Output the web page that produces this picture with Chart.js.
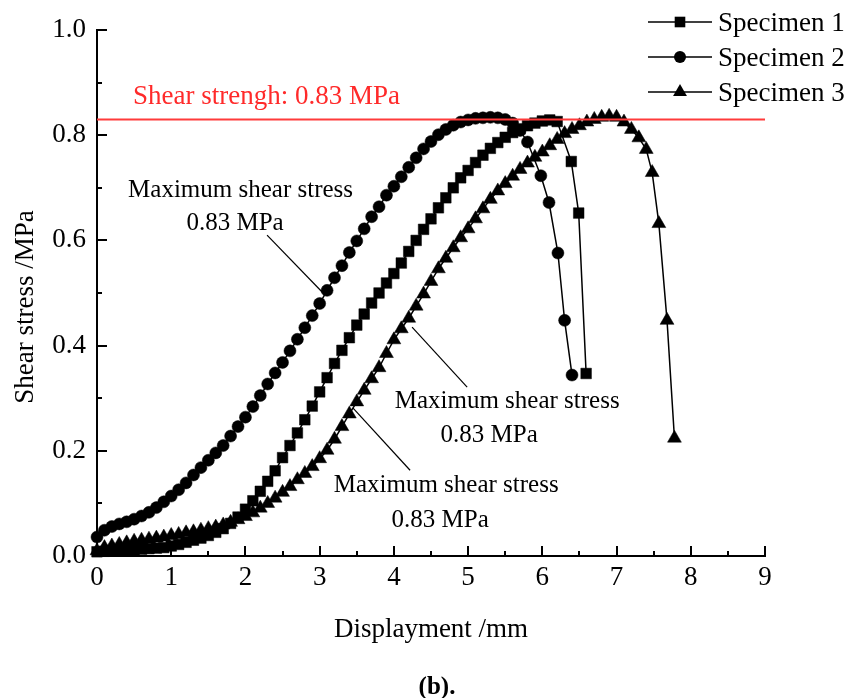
<!DOCTYPE html>
<html>
<head>
<meta charset="utf-8">
<script src="https://cdn.jsdelivr.net/npm/chart.js@4.4.1/dist/chart.umd.min.js"></script>
<style>
  html, body { margin: 0; padding: 0; background: #fff; }
  #wrap { width: 848px; height: 698px; }
</style>
</head>
<body>
<div id="wrap"><canvas id="shearChart" width="848" height="698"></canvas></div>
<script>
"use strict";

// displacement (mm) and shear stress (MPa)
const s1X = [0,0.1,0.2,0.3,0.4,0.5,0.6,0.7,0.8,0.9,1.0,1.1,1.2,1.3,1.4,1.5,1.6,1.7,1.8,1.9,
  2.0,2.1,2.2,2.3,2.4,2.5,2.6,2.7,2.8,2.9,3.0,3.1,3.2,3.3,3.4,3.5,3.6,3.7,3.8,3.9,
  4.0,4.1,4.2,4.3,4.4,4.5,4.6,4.7,4.8,4.9,5.0,5.1,5.2,5.3,5.4,5.5,5.6,5.7,5.8,5.9,
  6.0,6.1,6.2,6.39,6.49,6.59];
const s1Y = [0.008,0.009,0.010,0.011,0.011,0.012,0.013,0.014,0.015,0.016,0.019,0.022,0.026,0.030,0.034,0.039,0.045,0.052,0.062,0.074,
  0.089,0.105,0.123,0.142,0.162,0.187,0.210,0.234,0.259,0.285,0.312,0.339,0.366,0.391,0.415,0.439,0.460,0.481,0.500,0.519,
  0.537,0.557,0.579,0.600,0.621,0.641,0.662,0.681,0.700,0.719,0.733,0.748,0.762,0.775,0.786,0.796,0.805,0.812,0.818,0.823,
  0.827,0.829,0.826,0.750,0.652,0.347];

const s2X = [0,0.1,0.2,0.3,0.4,0.5,0.6,0.7,0.8,0.9,1.0,1.1,1.2,1.3,1.4,1.5,1.6,1.7,1.8,1.9,
  2.0,2.1,2.2,2.3,2.4,2.5,2.6,2.7,2.8,2.9,3.0,3.1,3.2,3.3,3.4,3.5,3.6,3.7,3.8,3.9,
  4.0,4.1,4.2,4.3,4.4,4.5,4.6,4.7,4.8,4.9,5.0,5.1,5.2,5.3,5.4,5.5,5.6,5.7,5.8,
  5.98,6.09,6.21,6.3,6.4];
const s2Y = [0.036,0.049,0.056,0.061,0.065,0.070,0.076,0.083,0.092,0.103,0.114,0.126,0.139,0.154,0.168,0.182,0.196,0.210,0.228,0.246,
  0.264,0.284,0.305,0.327,0.348,0.368,0.390,0.412,0.434,0.457,0.480,0.505,0.529,0.552,0.577,0.599,0.622,0.645,0.664,0.686,
  0.703,0.721,0.739,0.757,0.774,0.788,0.801,0.811,0.819,0.825,0.829,0.832,0.833,0.834,0.833,0.830,0.823,0.809,0.787,
  0.723,0.672,0.576,0.448,0.344];

const s3X = [0,0.1,0.2,0.3,0.4,0.5,0.6,0.7,0.8,0.9,1.0,1.1,1.2,1.3,1.4,1.5,1.6,1.7,1.8,1.9,
  2.0,2.1,2.2,2.3,2.4,2.5,2.6,2.7,2.8,2.9,3.0,3.1,3.2,3.3,3.4,3.5,3.6,3.7,3.8,3.9,
  4.0,4.1,4.2,4.3,4.4,4.5,4.6,4.7,4.8,4.9,5.0,5.1,5.2,5.3,5.4,5.5,5.6,5.7,5.8,5.9,
  6.0,6.1,6.2,6.3,6.4,6.5,6.6,6.7,6.8,6.9,7.0,7.1,7.2,7.3,7.4,7.48,7.57,7.68,7.78];
const s3Y = [0.010,0.016,0.019,0.022,0.025,0.028,0.030,0.032,0.034,0.036,0.039,0.041,0.044,0.046,0.049,0.052,0.055,0.059,0.064,0.069,
  0.075,0.082,0.091,0.100,0.110,0.121,0.132,0.145,0.157,0.170,0.185,0.201,0.222,0.246,0.270,0.293,0.315,0.337,0.358,0.385,
  0.411,0.432,0.452,0.475,0.498,0.522,0.546,0.566,0.586,0.605,0.622,0.641,0.660,0.678,0.694,0.708,0.722,0.735,0.747,0.758,
  0.768,0.780,0.792,0.803,0.811,0.818,0.825,0.830,0.834,0.836,0.834,0.825,0.811,0.795,0.773,0.729,0.632,0.448,0.224];

const strengthX = [0, 9];
const strengthY = [0.83, 0.83];

const seriesNames = ["Specimen 1", "Specimen 2", "Specimen 3"];
const seriesStyles = ["rect", "circle", "triangle"];
const seriesRadii = [7.5, 6, 8];
const xTicks = [0, 1, 2, 3, 4, 5, 6, 7, 8, 9];
const yTicks = [0, 0.2, 0.4, 0.6, 0.8, 1.0];

const FONT = '"Liberation Serif", "Times New Roman", serif';

function toPoints(xs, ys) {
  return xs.map((x, i) => ({x: x, y: ys[i]}));
}

function specimen(i, xs, ys) {
  return {
    label: seriesNames[i],
    data: toPoints(xs, ys),
    borderColor: "#000",
    backgroundColor: "#000",
    borderWidth: 1.5,
    pointStyle: seriesStyles[i],
    pointRadius: seriesRadii[i],
    pointBorderWidth: 0.5,
    pointBackgroundColor: "#000",
    pointBorderColor: "#000",
    tension: 0,
    clip: false,
  };
}

function drawMarker(ctx, style, x, y, r) {
  ctx.beginPath();
  if (style === "rect") {
    const s = r * Math.SQRT1_2;
    ctx.rect(x - s, y - s, 2 * s, 2 * s);
  } else if (style === "circle") {
    ctx.arc(x, y, r, 0, Math.PI * 2);
  } else {
    ctx.moveTo(x, y - r);
    ctx.lineTo(x + r * Math.sin(Math.PI * 2 / 3), y + r / 2);
    ctx.lineTo(x - r * Math.sin(Math.PI * 2 / 3), y + r / 2);
    ctx.closePath();
  }
  ctx.fill();
}

// callouts placed in data units
const callouts = [
  {l1: [1.934, 0.683], l2: [1.860, 0.620], from: [2.291, 0.610], to: [3.046, 0.500]},
  {l1: [5.526, 0.281], l2: [5.283, 0.217], from: [4.987, 0.321], to: [4.245, 0.435]},
  {l1: [4.704, 0.122], l2: [4.623, 0.055], from: [4.218, 0.163], to: [3.450, 0.281]},
];

const decor = {
  id: "decor",
  afterDraw(chart) {
    const ctx = chart.ctx;
    const xs = chart.scales.x;
    const ys = chart.scales.y;
    const bottom = ys.getPixelForValue(0);
    const left = xs.getPixelForValue(0);
    ctx.save();
    ctx.strokeStyle = "#000";
    ctx.fillStyle = "#000";
    ctx.lineWidth = 2;

    // inward ticks
    ctx.beginPath();
    for (let v = 0; v <= 9.001; v += 0.5) {
      const px = Math.round(xs.getPixelForValue(v));
      const len = Math.abs(v - Math.round(v)) < 0.01 ? 10 : 5;
      ctx.moveTo(px, bottom);
      ctx.lineTo(px, bottom - len);
    }
    for (let v = 0; v <= 1.001; v += 0.1) {
      const py = Math.round(ys.getPixelForValue(v));
      const major = Math.abs(v * 5 - Math.round(v * 5)) < 0.01;
      ctx.moveTo(left, py);
      ctx.lineTo(left + (major ? 10 : 5), py);
    }
    ctx.stroke();

    // axis titles and caption
    ctx.font = "27px " + FONT;
    ctx.textAlign = "center";
    ctx.textBaseline = "alphabetic";
    ctx.fillText("Displayment /mm", 431, 637);
    ctx.save();
    ctx.translate(33, 307);
    ctx.rotate(-Math.PI / 2);
    ctx.fillText("Shear stress /MPa", 0, 0);
    ctx.restore();
    ctx.font = "bold 25px " + FONT;
    ctx.fillText("(b).", 437, 694);

    // strength label
    ctx.fillStyle = "#ff2a2a";
    ctx.font = "27px " + FONT;
    ctx.textAlign = "left";
    ctx.fillText("Shear strengh: 0.83 MPa", xs.getPixelForValue(0.485), ys.getPixelForValue(0.859));

    // callouts
    ctx.fillStyle = "#000";
    ctx.textAlign = "center";
    ctx.font = "25px " + FONT;
    ctx.lineWidth = 1.2;
    callouts.forEach(c => {
      ctx.fillText("Maximum shear stress", xs.getPixelForValue(c.l1[0]), ys.getPixelForValue(c.l1[1]));
      ctx.fillText("0.83 MPa", xs.getPixelForValue(c.l2[0]), ys.getPixelForValue(c.l2[1]));
      ctx.beginPath();
      ctx.moveTo(xs.getPixelForValue(c.from[0]), ys.getPixelForValue(c.from[1]));
      ctx.lineTo(xs.getPixelForValue(c.to[0]), ys.getPixelForValue(c.to[1]));
      ctx.stroke();
    });

    // legend
    const rows = [22, 57, 92];
    ctx.font = "27px " + FONT;
    ctx.textAlign = "left";
    rows.forEach((ry, i) => {
      ctx.lineWidth = 1.5;
      ctx.beginPath();
      ctx.moveTo(648, ry);
      ctx.lineTo(712, ry);
      ctx.stroke();
      drawMarker(ctx, seriesStyles[i], 680, ry, seriesRadii[i]);
      ctx.fillText(seriesNames[i], 718, ry + 9);
    });
    ctx.restore();
  }
};

const ctx = document.getElementById("shearChart").getContext("2d");

const chart = new Chart(ctx, {
  type: "line",
  data: {
    datasets: [
      {
        label: "Shear strength",
        data: toPoints(strengthX, strengthY),
        borderColor: "#ff3b3b",
        borderWidth: 2,
        pointRadius: 0,
        tension: 0,
      },
      specimen(0, s1X, s1Y),
      specimen(1, s2X, s2Y),
      specimen(2, s3X, s3Y),
    ],
  },
  options: {
    responsive: false,
    animation: false,
    devicePixelRatio: 1,
    layout: {padding: {top: 30, right: 83, left: 0, bottom: 0}},
    plugins: {
      legend: {display: false},
      tooltip: {enabled: false},
    },
    scales: {
      x: {
        type: "linear",
        min: 0,
        max: 9,
        grid: {display: false, drawTicks: false},
        border: {display: true, color: "#000", width: 2},
        afterBuildTicks: s => { s.ticks = xTicks.map(v => ({value: v})); },
        ticks: {
          color: "#000",
          padding: 6,
          maxRotation: 0,
          font: {family: FONT, size: 27},
        },
        afterFit: s => { s.height = 142; },
      },
      y: {
        type: "linear",
        min: 0,
        max: 1,
        grid: {display: false, drawTicks: false},
        border: {display: true, color: "#000", width: 2},
        afterBuildTicks: s => { s.ticks = yTicks.map(v => ({value: v})); },
        ticks: {
          color: "#000",
          padding: 11,
          font: {family: FONT, size: 27},
          callback: v => v.toFixed(1),
        },
        afterFit: s => { s.width = 97; },
      },
    },
  },
  plugins: [decor],
});
</script>
</body>
</html>
